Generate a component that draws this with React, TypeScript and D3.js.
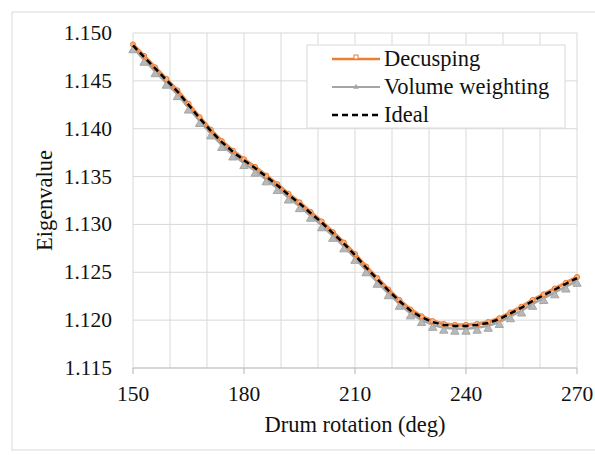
import React from "react";
import * as d3 from "d3";

const angles = [150,153,156,159,162,165,168,171,174,177,180,183,186,189,192,195,198,201,204,207,210,213,216,219,222,225,228,231,234,237,240,243,246,249,252,255,258,261,264,267,270];
const ideal = [1.1487,1.1475,1.1463,1.1451,1.1439,1.1425,1.1411,1.1398,1.1386,1.1376,1.1367,1.1359,1.1350,1.1341,1.1331,1.1322,1.1312,1.1302,1.1291,1.1280,1.1268,1.1255,1.1243,1.1231,1.1220,1.1210,1.1203,1.1198,1.1195,1.1194,1.1194,1.1195,1.1197,1.1201,1.1207,1.1213,1.1220,1.1226,1.1232,1.1238,1.1244];
const decusping = [1.1488,1.1476,1.1464,1.1452,1.1440,1.1426,1.1412,1.1399,1.1387,1.1377,1.1368,1.1360,1.1351,1.1342,1.1332,1.1323,1.1313,1.1303,1.1292,1.1281,1.1269,1.1256,1.1244,1.1232,1.1221,1.1211,1.1204,1.1199,1.1196,1.1195,1.1195,1.1196,1.1198,1.1202,1.1208,1.1214,1.1221,1.1227,1.1233,1.1239,1.1245];
const volumeWeighting = [1.1485,1.1472,1.1460,1.1448,1.1436,1.1422,1.1408,1.1395,1.1383,1.1373,1.1364,1.1356,1.1347,1.1338,1.1328,1.1319,1.1309,1.1299,1.1288,1.1277,1.1265,1.1252,1.1240,1.1228,1.1217,1.1207,1.1200,1.1195,1.1192,1.1191,1.1191,1.1192,1.1194,1.1198,1.1204,1.1210,1.1217,1.1223,1.1229,1.1235,1.1241];
const xTicks = [150,180,210,240,270];
const xGrid = [150,160,170,180,190,200,210,220,230,240,250,260,270];
const yTicks = [1.115,1.12,1.125,1.13,1.135,1.14,1.145,1.15];
const legendLabels = ["Decusping","Volume weighting","Ideal"];

const FONT = "Liberation Serif, Times New Roman, serif";
const ORANGE = "#ED7D31";
const GRAY = "#A5A5A5";

export default function App() {
  const x = d3.scaleLinear().domain([150, 270]).range([133, 577]);
  const y = d3.scaleLinear().domain([1.115, 1.15]).range([368, 33]);
  const mk = (vals: number[]) =>
    d3.line<number>().x((_, i) => x(angles[i])).y((v) => y(v))(vals) || "";
  const tri = d3.symbol().type(d3.symbolTriangle).size(30)() || "";
  const triSmall = d3.symbol().type(d3.symbolTriangle).size(14)() || "";

  return (
    <svg width={595} height={455} style={{ position: "absolute", left: 0, top: 0, background: "#fff", fontFamily: FONT }}>
      <rect x={0} y={0} width={595} height={455} fill="#fff" />
      <rect x={12} y={12} width={620} height={438} fill="none" stroke="#D9D9D9" strokeWidth={1} />
      {xGrid.map((t) => (
        <line key={"gx" + t} x1={x(t)} x2={x(t)} y1={y(1.15)} y2={y(1.115)} stroke="#D9D9D9" strokeWidth={1} />
      ))}
      {yTicks.map((t) => (
        <line key={"gy" + t} x1={x(150)} x2={x(270)} y1={y(t)} y2={y(t)} stroke="#D9D9D9" strokeWidth={1} />
      ))}
      <line x1={x(150)} x2={x(270)} y1={y(1.115)} y2={y(1.115)} stroke="#BFBFBF" strokeWidth={1.2} />
      {xTicks.map((t) => (
        <line key={"tx" + t} x1={x(t)} x2={x(t)} y1={y(1.115)} y2={y(1.115) + 6} stroke="#BFBFBF" strokeWidth={1.2} />
      ))}
      {xTicks.map((t) => (
        <text key={"lx" + t} x={x(t)} y={y(1.115) + 33} textAnchor="middle" fontSize={21.5} fill="#111">{t}</text>
      ))}
      {yTicks.map((t) => (
        <text key={"ly" + t} x={112} y={y(t) + 7} textAnchor="end" fontSize={21.5} fill="#111">{t.toFixed(3)}</text>
      ))}
      <text x={(x(150) + x(270)) / 2} y={432} textAnchor="middle" fontSize={22.5} fill="#111">Drum rotation (deg)</text>
      <text transform={`translate(52,${(y(1.115) + y(1.15)) / 2}) rotate(-90)`} textAnchor="middle" fontSize={22.5} fill="#111">Eigenvalue</text>
      <path d={mk(volumeWeighting)} fill="none" stroke={GRAY} strokeWidth={2.5} />
      {volumeWeighting.map((v, i) => (
        <path key={"vm" + i} d={tri} transform={`translate(${x(angles[i])},${y(v) + 3})`} fill="#B8B8B8" stroke={GRAY} strokeWidth={1} />
      ))}
      <path d={mk(decusping)} fill="none" stroke={ORANGE} strokeWidth={3.5} opacity={0.85} />
      {decusping.map((v, i) => (
        <circle key={"dm" + i} cx={x(angles[i])} cy={y(v)} r={2.6} fill="#F4B183" stroke={ORANGE} strokeWidth={1} />
      ))}
      <path d={mk(ideal)} fill="none" stroke="#000" strokeWidth={2.5} strokeDasharray="6,4" />
      <rect x={307} y={45} width={258} height={83} fill="#fff" stroke="#D9D9D9" strokeWidth={1} />
      {legendLabels.map((lab, i) => {
        const cy = 59 + i * 28;
        const col = i === 0 ? ORANGE : i === 1 ? GRAY : "#000";
        return (
          <g key={lab}>
            <line x1={332} x2={380} y1={cy} y2={cy} stroke={col} strokeWidth={i === 1 ? 2 : 2.5} strokeDasharray={i === 2 ? "6,4" : undefined} />
            {i === 0 && <rect x={354} y={cy - 4} width={4} height={4} fill="#fff" stroke={ORANGE} strokeWidth={1} />}
            {i === 1 && <path d={triSmall} transform={`translate(356,${cy})`} fill={GRAY} />}
            <text x={384} y={cy + 7} fontSize={22.5} fill="#111">{lab}</text>
          </g>
        );
      })}
    </svg>
  );
}
